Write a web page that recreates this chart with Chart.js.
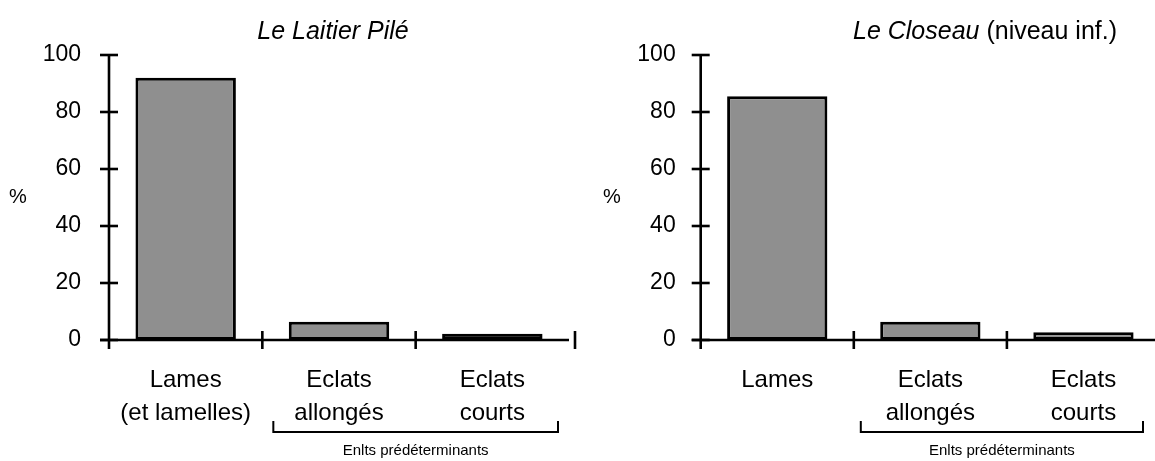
<!DOCTYPE html>
<html><head><meta charset="utf-8">
<script src="https://cdn.jsdelivr.net/npm/chart.js@4/dist/chart.umd.min.js"></script>
<style>
html,body{margin:0;padding:0;background:#fff;width:1155px;height:461px;overflow:hidden;position:relative;}
#c1{position:absolute;left:0;top:0;}
#c2{position:absolute;left:590px;top:0;}
</style></head><body>
<canvas id="c1" width="590" height="461"></canvas>
<canvas id="c2" width="590" height="461"></canvas>
<script>
// ---- data ----
const categoriesLeft = [['Lames', '(et lamelles)'], ['Eclats', 'allongés'], ['Eclats', 'courts']];
const categoriesRight = ['Lames', ['Eclats', 'allongés'], ['Eclats', 'courts']];
const valuesLeft = [92, 6.4, 2.2];
const valuesRight = [85.5, 6.4, 2.7];
const yTickValues = [0, 20, 40, 60, 80, 100];
const bracketLabel = 'Enlts prédéterminants';
const titleLeft = [{ text: 'Le Laitier Pilé', italic: true }];
const titleRight = [{ text: 'Le Closeau', italic: true }, { text: ' (niveau inf.)', italic: false }];
const yLabel = '%';

const FONT = '"Liberation Sans", Arial, Helvetica, sans-serif';

function decor(opts) {
  return {
    id: 'decor',
    afterDraw(chart) {
      const ctx = chart.ctx, xs = chart.scales.x, ys = chart.scales.y, a = chart.chartArea;
      const line = (x1, y1, x2, y2) => { ctx.beginPath(); ctx.moveTo(x1, y1); ctx.lineTo(x2, y2); ctx.stroke(); };
      ctx.save();
      ctx.strokeStyle = '#000'; ctx.lineWidth = 2.6; ctx.lineCap = 'butt';
      const y0 = ys.getPixelForValue(0), yTop = ys.getPixelForValue(yTickValues[yTickValues.length - 1]);
      const xl = a.left;
      line(xl, yTop, xl, y0 + 9);
      line(xl - 9, y0, a.right, y0);
      yTickValues.forEach(v => { const py = ys.getPixelForValue(v); line(xl - 9, py, xl + 9, py); });
      const n = chart.data.labels.length;
      const half = (xs.getPixelForValue(1) - xs.getPixelForValue(0)) / 2;
      for (let i = 1; i < n; i++) {
        const px = xs.getPixelForValue(i) - half;
        line(px, y0 - 9, px, y0 + 9);
      }
      if (opts.endTick) { const px = a.right + 6; line(px, y0 - 9, px, y0 + 9); }
      // bracket under categories 2-3
      ctx.lineWidth = 2;
      const bl = xs.getPixelForValue(1) - half + opts.bracketInsetL;
      const br = xs.getPixelForValue(2) + half - opts.bracketInsetR;
      const by = 432;
      ctx.beginPath(); ctx.moveTo(bl, by - 11); ctx.lineTo(bl, by); ctx.lineTo(br, by); ctx.lineTo(br, by - 11); ctx.stroke();
      ctx.fillStyle = '#000';
      ctx.font = '15px ' + FONT; ctx.textAlign = 'center'; ctx.textBaseline = 'middle';
      ctx.fillText(bracketLabel, (bl + br) / 2, 451);
      // y label
      ctx.font = '20px ' + FONT;
      ctx.fillText(yLabel, opts.pctX, (y0 + yTop) / 2);
      // title
      ctx.textBaseline = 'alphabetic'; ctx.textAlign = 'left';
      let w = 0;
      opts.title.forEach(p => { ctx.font = (p.italic ? 'italic ' : '') + '25px ' + FONT; w += ctx.measureText(p.text).width; });
      let tx = opts.titleCX - w / 2;
      opts.title.forEach(p => { ctx.font = (p.italic ? 'italic ' : '') + '25px ' + FONT; ctx.fillText(p.text, tx, 39); tx += ctx.measureText(p.text).width; });
      ctx.restore();
    }
  };
}

function makeChart(id, labels, values, colors, yWidth, rightPad, opts) {
  return new Chart(document.getElementById(id), {
    type: 'bar',
    data: {
      labels: labels,
      datasets: [{
        data: values,
        backgroundColor: colors,
        borderColor: '#000',
        borderWidth: 3,
        borderSkipped: false,
        categoryPercentage: 1,
        barPercentage: 0.655
      }]
    },
    options: {
      responsive: false, animation: false, devicePixelRatio: 1,
      layout: { padding: { top: 55, right: rightPad, left: 0, bottom: 0 } },
      plugins: { legend: { display: false }, tooltip: { enabled: false }, title: { display: false } },
      scales: {
        y: {
          min: 0, max: 100,
          afterBuildTicks(s) { s.ticks = yTickValues.map(v => ({ value: v })); },
          afterFit(s) { s.width = yWidth; },
          grid: { display: false, drawTicks: false },
          border: { display: false },
          ticks: { color: '#000', font: { family: FONT, size: 23 }, padding: opts.tickPad }
        },
        x: {
          afterFit(s) { s.height = 121; },
          grid: { display: false, drawTicks: false },
          border: { display: false },
          ticks: { color: '#000', font: { family: FONT, size: 24, lineHeight: 1.38 }, padding: 24, maxRotation: 0, autoSkip: false }
        }
      }
    },
    plugins: [decor(opts)]
  });
}

makeChart('c1', categoriesLeft, valuesLeft, ['#8f8f8f', '#8f8f8f', '#000000'], 109, 21,
  { endTick: true, bracketInsetL: 11, bracketInsetR: 11, pctX: 18, titleCX: 333, title: titleLeft, tickPad: 28 });
makeChart('c2', categoriesRight, valuesRight, ['#8f8f8f', '#8f8f8f', '#8f8f8f'], 110.7, 20,
  { endTick: false, bracketInsetL: 7, bracketInsetR: 17, pctX: 22, titleCX: 395, title: titleRight, tickPad: 25 });
</script>
</body></html>
